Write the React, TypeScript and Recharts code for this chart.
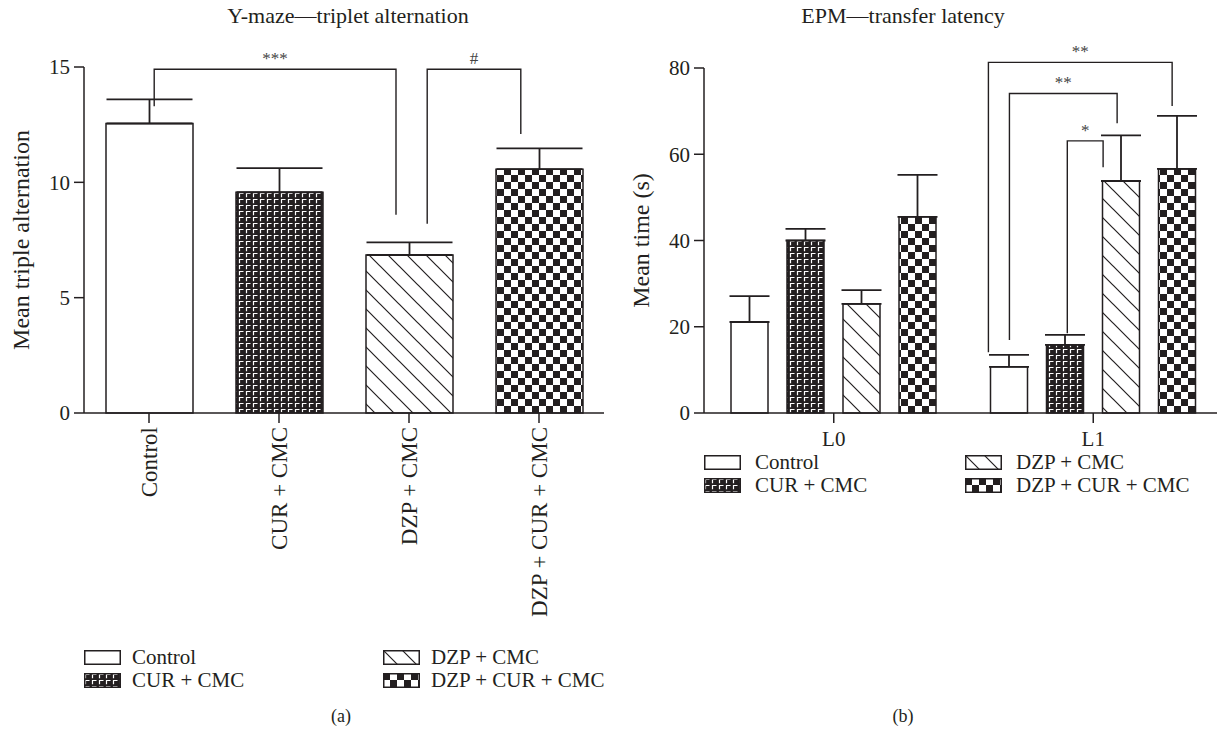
import React from "react";
import { BarChart, Bar, Cell, XAxis, YAxis, ErrorBar } from "recharts";

const INK = "#231f20";
const FONT = '"Liberation Serif", "DejaVu Serif", serif';

// (a) Y-maze
const YMAZE_GROUPS = ["Control", "CUR + CMC", "DZP + CMC", "DZP + CUR + CMC"];
const YMAZE_MEAN = [12.55, 9.57, 6.85, 10.57];
const YMAZE_SEM = [1.05, 1.05, 0.55, 0.9];
const YMAZE_TICKS = [0, 5, 10, 15];
// [label, x start, x end, top, left leg end, right leg end]; x in category units, y in data units
const YMAZE_BRACKETS: [string, number, number, number, number, number][] = [
  ["***", 0.54, 2.4, 14.9, 13.3, 8.6],
  ["#", 2.64, 3.36, 14.9, 8.2, 12.1],
];

// (b) EPM
const EPM_LEVELS = ["L0", "L1"];
const EPM_CONTROL = [21.1, 10.7];
const EPM_CONTROL_SEM = [6.0, 2.8];
const EPM_CUR = [40.0, 15.8];
const EPM_CUR_SEM = [2.7, 2.3];
const EPM_DZP = [25.3, 53.8];
const EPM_DZP_SEM = [3.2, 10.6];
const EPM_BOTH = [45.5, 56.6];
const EPM_BOTH_SEM = [9.7, 12.3];
const EPM_TICKS = [0, 20, 40, 60, 80];
const EPM_BRACKETS: [string, number, number, number, number, number][] = [
  ["**", 1.096, 1.804, 81.3, 14.1, 71.2],
  ["**", 1.177, 1.592, 74.1, 16.9, 67.2],
  ["*", 1.4, 1.538, 63.1, 18.5, 57.0],
];

const FILLS = ["#ffffff", "url(#pat-cur)", "url(#pat-dzp)", "url(#pat-both)"];

// layout shared by charts and bracket overlay
const PLOT_TOP_A = 67;
const PLOT_TOP_B = 68;
const PLOT_BOTTOM = 413;
const A_LEFT = 0;
const A_YW = 84;
const A_W = 620;
const A_RIGHT = 16;
const B_LEFT = 600;
const B_YW = 104;
const B_W = 640;
const B_RIGHT = 17;

const ymazeData = YMAZE_GROUPS.map((name, i) => ({
  name,
  mean: YMAZE_MEAN[i],
  err: [0, YMAZE_SEM[i]],
}));

const epmData = EPM_LEVELS.map((name, i) => ({
  name,
  control: EPM_CONTROL[i],
  controlErr: [0, EPM_CONTROL_SEM[i]],
  cur: EPM_CUR[i],
  curErr: [0, EPM_CUR_SEM[i]],
  dzp: EPM_DZP[i],
  dzpErr: [0, EPM_DZP_SEM[i]],
  both: EPM_BOTH[i],
  bothErr: [0, EPM_BOTH_SEM[i]],
}));

const EPM_SERIES = ["control", "cur", "dzp", "both"];

const textStyle = { fill: INK, fontSize: 21, fontFamily: FONT };
const labelStyle = { fill: INK, fontSize: 24, fontFamily: FONT };

type BracketDef = [string, number, number, number, number, number];

const Brackets = ({
  defs,
  x0,
  plotW,
  nCats,
  top,
  yMax,
}: {
  defs: BracketDef[];
  x0: number;
  plotW: number;
  nCats: number;
  top: number;
  yMax: number;
}) => {
  const sx = (u: number) => x0 + (u / nCats) * plotW;
  const sy = (v: number) => PLOT_BOTTOM - (v / yMax) * (PLOT_BOTTOM - top);
  return (
    <g>
      {defs.map(([label, x1, x2, t, l1, l2], i) => (
        <g key={i}>
          <polyline
            points={`${sx(x1)},${sy(l1)} ${sx(x1)},${sy(t)} ${sx(x2)},${sy(t)} ${sx(x2)},${sy(l2)}`}
            fill="none"
            stroke={INK}
            strokeWidth={1.4}
          />
          <text
            x={(sx(x1) + sx(x2)) / 2}
            y={sy(t) - 5}
            textAnchor="middle"
            fill="#444"
            fontSize={17}
            fontFamily={FONT}
          >
            {label}
          </text>
        </g>
      ))}
    </g>
  );
};

const RotatedTick = (props: any) => {
  const { x, y, payload } = props;
  const ty = y + 2;
  return (
    <text
      x={x}
      y={ty}
      transform={`rotate(-90, ${x}, ${ty})`}
      textAnchor="end"
      dy="0.35em"
      fill={INK}
      fontSize={23}
      fontFamily={FONT}
    >
      {payload.value}
    </text>
  );
};

const Swatch = ({ fill }: { fill: string }) => (
  <svg width={37} height={15} style={{ display: "block" }}>
    <rect x={0.75} y={0.75} width={35.5} height={13.5} fill={fill} stroke={INK} strokeWidth={1.5} />
  </svg>
);

const Legend = ({ left, top, colGap, textGap }: { left: number; top: number; colGap: number; textGap: number }) => (
  <div style={{ position: "absolute", left, top }}>
    {YMAZE_GROUPS.map((g, i) => {
      const col = i < 2 ? 0 : 1;
      const row = i % 2;
      return (
        <div
          key={g}
          style={{
            position: "absolute",
            left: col * colGap,
            top: row * 23,
            display: "flex",
            alignItems: "center",
            whiteSpace: "nowrap",
            height: 22,
          }}
        >
          <Swatch fill={FILLS[i]} />
          <span style={{ marginLeft: textGap, fontFamily: FONT, fontSize: 21, color: INK }}>{g}</span>
        </div>
      );
    })}
  </div>
);

export default function App() {
  return (
    <div
      style={{
        position: "absolute",
        left: 0,
        top: 0,
        width: 1217,
        height: 729,
        overflow: "hidden",
        background: "#ffffff",
        fontFamily: FONT,
        color: INK,
      }}
    >
      <svg width={0} height={0} style={{ position: "absolute" }}>
        <defs>
          <pattern id="pat-cur" width={7} height={6} patternUnits="userSpaceOnUse">
            <rect width={7} height={6} fill={INK} />
            <path d="M1.5,5.2 V1.5 H5.5" stroke="#ffffff" strokeWidth={1.2} fill="none" />
          </pattern>
          <pattern id="pat-dzp" width={19} height={19} patternUnits="userSpaceOnUse">
            <rect width={19} height={19} fill="#ffffff" />
            <path d="M0,0 L19,19 M-4,15 L4,23 M15,-4 L23,4" stroke={INK} strokeWidth={1.2} />
          </pattern>
          <pattern id="pat-both" width={14} height={14} patternUnits="userSpaceOnUse">
            <rect width={14} height={14} fill="#ffffff" />
            <rect width={7} height={7} fill={INK} />
            <rect x={7} y={7} width={7} height={7} fill={INK} />
          </pattern>
        </defs>
      </svg>

      <div style={{ position: "absolute", left: 0, width: 696, top: 3, textAlign: "center", fontSize: 22 }}>
        Y-maze—triplet alternation
      </div>
      <div style={{ position: "absolute", left: 703, width: 400, top: 3, textAlign: "center", fontSize: 22 }}>
        EPM—transfer latency
      </div>

      <div style={{ position: "absolute", left: A_LEFT, top: 0 }}>
        <BarChart
          width={A_W}
          height={650}
          data={ymazeData}
          margin={{ top: PLOT_TOP_A, right: A_RIGHT, bottom: 0, left: 0 }}
        >
          <XAxis
            dataKey="name"
            height={650 - PLOT_BOTTOM}
            interval={0}
            tick={<RotatedTick />}
            tickSize={10}
            axisLine={{ stroke: INK, strokeWidth: 1.5 }}
            tickLine={{ stroke: INK, strokeWidth: 1.5 }}
          />
          <YAxis
            width={A_YW}
            domain={[0, 15]}
            ticks={YMAZE_TICKS}
            tickSize={10}
            tickMargin={4}
            tick={textStyle}
            axisLine={{ stroke: INK, strokeWidth: 1.5 }}
            tickLine={{ stroke: INK, strokeWidth: 1.5 }}
            label={{
              value: "Mean triple alternation",
              angle: -90,
              position: "insideLeft",
              offset: 20,
              style: { textAnchor: "middle" },
              ...labelStyle,
            }}
          />
          <Bar dataKey="mean" barSize={87} stroke={INK} strokeWidth={1.5} isAnimationActive={false}>
            {ymazeData.map((d, i) => (
              <Cell key={d.name} fill={FILLS[i]} />
            ))}
            <ErrorBar dataKey="err" width={43} stroke={INK} strokeWidth={1.8} direction="y" />
          </Bar>
        </BarChart>
      </div>

      <div style={{ position: "absolute", left: B_LEFT, top: 0 }}>
        <BarChart
          width={B_W}
          height={500}
          data={epmData}
          barGap={19}
          margin={{ top: PLOT_TOP_B, right: B_RIGHT, bottom: 0, left: 0 }}
        >
          <XAxis
            dataKey="name"
            height={500 - PLOT_BOTTOM}
            tickSize={10}
            tickMargin={8}
            tick={textStyle}
            axisLine={{ stroke: INK, strokeWidth: 1.5 }}
            tickLine={{ stroke: INK, strokeWidth: 1.5 }}
          />
          <YAxis
            width={B_YW}
            domain={[0, 80]}
            ticks={EPM_TICKS}
            tickSize={10}
            tickMargin={4}
            tick={textStyle}
            axisLine={{ stroke: INK, strokeWidth: 1.5 }}
            tickLine={{ stroke: INK, strokeWidth: 1.5 }}
            label={{
              value: "Mean time (s)",
              angle: -90,
              position: "insideLeft",
              offset: 40,
              style: { textAnchor: "middle" },
              ...labelStyle,
            }}
          />
          {EPM_SERIES.map((s, i) => (
            <Bar
              key={s}
              dataKey={s}
              barSize={37}
              fill={FILLS[i]}
              stroke={INK}
              strokeWidth={1.5}
              isAnimationActive={false}
            >
              <ErrorBar dataKey={s + "Err"} width={20} stroke={INK} strokeWidth={1.8} direction="y" />
            </Bar>
          ))}
        </BarChart>
      </div>

      <svg width={1217} height={729} style={{ position: "absolute", left: 0, top: 0, pointerEvents: "none" }}>
        <Brackets
          defs={YMAZE_BRACKETS}
          x0={A_LEFT + A_YW}
          plotW={A_W - A_YW - A_RIGHT}
          nCats={YMAZE_GROUPS.length}
          top={PLOT_TOP_A}
          yMax={15}
        />
        <Brackets
          defs={EPM_BRACKETS}
          x0={B_LEFT + B_YW}
          plotW={B_W - B_YW - B_RIGHT}
          nCats={EPM_LEVELS.length}
          top={PLOT_TOP_B}
          yMax={80}
        />
      </svg>

      <Legend left={84} top={646} colGap={299} textGap={11} />
      <Legend left={704} top={451} colGap={261} textGap={14} />

      <div style={{ position: "absolute", left: 291, width: 100, top: 706, textAlign: "center", fontSize: 18 }}>(a)</div>
      <div style={{ position: "absolute", left: 853, width: 100, top: 706, textAlign: "center", fontSize: 18 }}>(b)</div>
    </div>
  );
}
